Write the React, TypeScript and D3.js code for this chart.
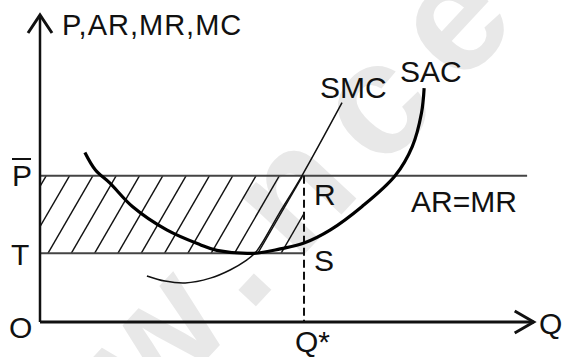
import React from 'react';
import * as d3 from 'd3';

// quantity / cost points
const sacQ = [1.7, 2.1, 2.65, 3.5, 4.8, 6.05, 6.7, 8.1, 9.1, 10.0, 11.0, 12.2, 13.45, 14.1, 14.45, 14.55];
const sacC = [11.6, 10.4, 9.5, 7.9, 6.3, 5.3, 4.9, 4.7, 5.0, 5.4, 6.3, 7.9, 10.0, 12.0, 14.3, 16.0];

const smcQ = [4.05, 4.73, 5.5, 6.45, 7.2, 7.77, 8.18, 9.05, 9.92, 11.44];
const smcC = [3.15, 2.8, 2.67, 3.0, 3.56, 4.17, 4.79, 7.4, 10.0, 15.0];

const priceP = 10;   // P bar = AR = MR
const costT = 4.7;   // T = SAC at Q*
const qStar = 10;

const yAxisLabel = 'P,AR,MR,MC';
const xAxisLabel = 'Q';

const W = 563;
const H = 357;

export default function App() {
  const x = d3.scaleLinear().domain([0, 18.7]).range([40, 533.7]);
  const y = d3.scaleLinear().domain([0, 21]).range([322, 15]);

  const line = d3.line<[number, number]>()
    .x(d => x(d[0]))
    .y(d => y(d[1]))
    .curve(d3.curveCatmullRom.alpha(0.5));

  const sac = line(sacQ.map((q, i) => [q, sacC[i]]));
  const smc = line(smcQ.map((q, i) => [q, smcC[i]]));

  // hatching of the profit area
  const hatchStep = 0.883;
  const hatchRun = 1.7;
  const hatch = d3.range(-3, 13).map(k => {
    const q0 = 0.3 + k * hatchStep;
    return { x1: x(q0), y1: y(costT), x2: x(q0 + hatchRun), y2: y(priceP) };
  });

  const font = '"Liberation Sans", Arial, Helvetica, sans-serif';
  const fs = 30;

  return (
    <svg width={W} height={H} style={{ position: 'absolute', left: 0, top: 0, background: '#fff' }}
      fontFamily={font} fontSize={fs}>
      <defs>
        <clipPath id="profit">
          <rect x={x(0)} y={y(priceP)} width={x(qStar) - x(0)} height={y(costT) - y(priceP)} />
        </clipPath>
      </defs>

      {/* watermark */}
      <text transform="translate(150,420) rotate(-47)" fontSize={160} fontWeight="bold"
        letterSpacing={26} fill="#e8e8e8">w.ncer</text>

      {/* hatched area */}
      <g clipPath="url(#profit)" stroke="#111" strokeWidth={1.4}>
        {hatch.map((h, i) => (
          <line key={i} x1={h.x1} y1={h.y1} x2={h.x2} y2={h.y2} />
        ))}
      </g>

      {/* price and cost lines */}
      <line x1={x(0)} x2={x(18.45)} y1={y(priceP)} y2={y(priceP)} stroke="#444" strokeWidth={2} />
      <line x1={x(0)} x2={x(qStar)} y1={y(costT)} y2={y(costT)} stroke="#444" strokeWidth={2} />
      <line x1={x(qStar)} x2={x(qStar)} y1={y(priceP)} y2={y(0)} stroke="#111" strokeWidth={2}
        strokeDasharray="8,4" />

      {/* curves */}
      <path d={smc ?? ''} fill="none" stroke="#111" strokeWidth={1.5} />
      <path d={sac ?? ''} fill="none" stroke="#000" strokeWidth={3.2} />

      {/* axes */}
      <line x1={x(0)} x2={x(0)} y1={y(0)} y2={y(21)} stroke="#111" strokeWidth={2.5} />
      <line x1={x(0)} x2={x(18.7)} y1={y(0)} y2={y(0)} stroke="#111" strokeWidth={3} />
      <polyline points={`${x(0) - 12},${y(21) + 18} ${x(0)},${y(21)} ${x(0) + 12},${y(21) + 18}`}
        fill="none" stroke="#111" strokeWidth={3} strokeLinejoin="miter" />
      <polyline points={`${x(18.7) - 19},${y(0) - 11} ${x(18.7)},${y(0)} ${x(18.7) - 19},${y(0) + 11}`}
        fill="none" stroke="#111" strokeWidth={3} strokeLinejoin="miter" />

      {/* labels */}
      <g fill="#111">
        <text x={62} y={35} fontSize={29} letterSpacing={1}>{yAxisLabel}</text>
        <text x={539} y={334}>{xAxisLabel}</text>
        <text x={9} y={338}>O</text>
        <text x={11} y={265}>T</text>
        <text x={12} y={186}>P</text>
        <line x1={12} x2={31} y1={159} y2={159} stroke="#111" strokeWidth={2} />
        <text x={295} y={352}>Q*</text>
        <text x={314} y={205}>R</text>
        <text x={314} y={271}>S</text>
        <text x={411} y={212}>AR=MR</text>
        <text x={320} y={98}>SMC</text>
        <text x={400} y={82}>SAC</text>
      </g>
    </svg>
  );
}
